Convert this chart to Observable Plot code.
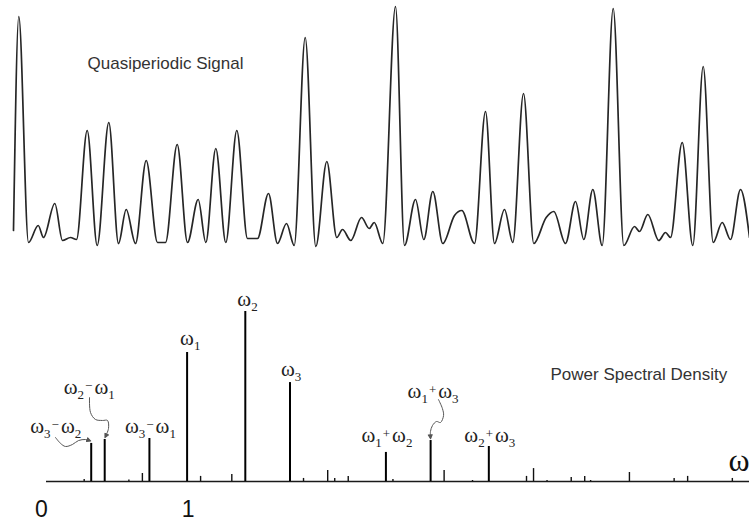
<!DOCTYPE html>
<html>
<head>
<meta charset="utf-8">
<script src="https://cdn.jsdelivr.net/npm/d3@7"></script>
<script src="https://cdn.jsdelivr.net/npm/@observablehq/plot@0.6"></script>
<style>
  html, body { margin: 0; padding: 0; background: #fff; }
  #chart { width: 749px; height: 520px; overflow: hidden; background: #fff; }
  #chart svg { display: block; }
</style>
</head>
<body>
<div id="chart"></div>
<script>
// ---------- Data: quasiperiodic signal (time, amplitude, arbitrary units) ----------
const signalTime = [13, 18.3, 28, 37.7, 43, 54.3, 62, 70, 76, 86.7,
  96.7, 108.3, 118, 125.7, 135, 145.7, 157, 165, 176.7, 187,
  197.7, 205.3, 215.3, 225.3, 236.3, 247, 257, 268, 277, 286,
  293.7, 304.7, 315.3, 326.3, 336.3, 342, 350.3, 361, 368.7, 373.7,
  382.3, 395, 404, 415, 423.3, 432.3, 442.3, 454, 461.3, 474,
  485, 494, 504, 512.3, 523, 533.3, 545.7, 553.3, 565, 575,
  583.3, 592.3, 601.7, 612.7, 623.3, 634, 639, 647.3, 658.3, 665,
  670, 681.7, 692.3, 702.7, 712.7, 721.7, 730, 740, 749];
const signalValue = [16, 230, 4, 21, 9, 43, 6, 9, 7, 116,
  1, 124, 3, 37, 3, 86, 4, 4, 102, 4,
  47, 4, 98, 4, 116, 8, 8, 53, 3, 23,
  1, 209, 0, 85, 9, 17, 6, 29, 18, 24,
  3, 240, 1, 47, 7, 55, 3, 31, 36, 3,
  135, 3, 37, 4, 153, 3, 29, 35, 3, 45,
  7, 57, 1, 238, 1, 20, 15, 32, 6, 14,
  9, 104, 1, 180, 4, 24, 7, 57, 9];

// ---------- Data: power spectral density ----------
const spikeFreq = [0.268, 0.318, 0.414, 0.586, 0.682, 0.732, 1, 1.096, 1.318, 1.414,
  1.732, 1.828, 2, 2.05, 2.146, 2.414, 2.464, 2.732, 2.828, 3.03,
  3.146, 3.414, 3.464, 3.56, 3.732, 3.828, 3.87, 4.146, 4.464, 4.56, 4.878];
const spikePower = [0.012, 0.224, 0.247, 0.009, 0.047, 0.253, 0.759, 0.03, 0.041, 1,
  0.582, 0.018, 0.065, 0.018, 0.03, 0.171, 0.012, 0.241, 0.065, 0.006,
  0.206, 0.03, 0.076, 0.006, 0.024, 0.03, 0.006, 0.053, 0.018, 0.03, 0.018];
const spikeLabel = ["", "ω3-ω2", "ω2-ω1", "", "", "ω3-ω1", "ω1", "", "", "ω2",
  "ω3", "", "", "", "", "ω1+ω2", "", "ω1+ω3", "", "",
  "ω2+ω3", "", "", "", "", "", "", "", "", "", ""];

// annotation arrows (frequency, power)
const arrowId = ["a","a","a","a","a","a","a", "b","b","b","b","b","b","b", "c","c","c","c","c","c","c","c"];
const arrowF = [0.064, 0.100, 0.135, 0.185, 0.228, 0.277, 0.306,
  0.306, 0.313, 0.348, 0.398, 0.434, 0.441, 0.420,
  2.788, 2.816, 2.824, 2.802, 2.774, 2.745, 2.731, 2.731];
const arrowP = [0.259, 0.224, 0.206, 0.218, 0.241, 0.247, 0.241,
  0.494, 0.406, 0.365, 0.359, 0.359, 0.312, 0.265,
  0.482, 0.429, 0.388, 0.347, 0.353, 0.329, 0.294, 0.259];

const tickValues = [0, 1];
const signalTitle = "Quasiperiodic Signal";
const spectrumTitle = "Power Spectral Density";
const axisSymbol = "ω";

// ---------- Tables ----------
const signal = signalTime.map((t, i) => ({t, v: signalValue[i]}));
const spikes = spikeFreq.map((f, i) => ({f, p: spikePower[i], label: spikeLabel[i]}));
const arrows = arrowF.map((f, i) => ({id: arrowId[i], f, p: arrowP[i]}));

const SANS = "'Liberation Sans', Arial, Helvetica, sans-serif";
const SERIF = "'Liberation Serif', 'Times New Roman', Times, serif";

// ---------- Top: signal ----------
const topPlot = Plot.plot({
  width: 749, height: 250,
  marginLeft: 0, marginRight: 0, marginTop: 6, marginBottom: 4,
  x: {domain: [0, 749], axis: null},
  y: {domain: [0, 240], axis: null},
  marks: [
    Plot.line(signal, {x: "t", y: "v", curve: "monotone-x", stroke: "#262626", strokeWidth: 1.7}),
    Plot.text([signalTitle], {text: d => d, frameAnchor: "top-left", textAnchor: "start", lineAnchor: "bottom",
      dx: 87, dy: 62, fontSize: 17, fontFamily: SANS, fill: "#333"})
  ]
});

// ---------- Bottom: spectrum ----------
const labelStyles = [
  {name: "ω1", textAnchor: "start", dx: -7, dy: -7},
  {name: "ω2", textAnchor: "start", dx: -8, dy: -6},
  {name: "ω3", textAnchor: "start", dx: -9, dy: -7},
  {name: "ω3-ω2", textAnchor: "end", dx: -10, dy: -10},
  {name: "ω2-ω1", textAnchor: "start", dx: -41, dy: -46},
  {name: "ω3-ω1", textAnchor: "middle", dx: 1, dy: -5},
  {name: "ω1+ω2", textAnchor: "middle", dx: 1, dy: -10},
  {name: "ω1+ω3", textAnchor: "start", dx: -23, dy: -43},
  {name: "ω2+ω3", textAnchor: "middle", dx: 1, dy: -4}
];

const bottomPlot = Plot.plot({
  width: 749, height: 270,
  marginLeft: 46, marginRight: 0, marginTop: 61, marginBottom: 39,
  x: {domain: [0, 5], axis: null},
  y: {domain: [0, 1], axis: null},
  marks: [
    Plot.ruleY([0], {stroke: "#1a1a1a", strokeWidth: 1.4}),
    Plot.ruleX(spikes.filter(d => !d.label), {x: "f", y1: 0, y2: "p", stroke: "#111", strokeWidth: 1.4}),
    Plot.ruleX(spikes.filter(d => d.label), {x: "f", y1: 0, y2: "p", stroke: "#000", strokeWidth: 2}),
    Plot.line(arrows, {x: "f", y: "p", z: "id", curve: "catmull-rom", stroke: "#555", strokeWidth: 1, markerEnd: "arrow"}),
    ...labelStyles.map(s => Plot.text(spikes.filter(d => d.label === s.name), {
      x: "f", y: "p", text: "label", textAnchor: s.textAnchor, lineAnchor: "bottom",
      dx: s.dx, dy: s.dy, fontSize: 21, fontFamily: SERIF, fill: "#222"
    })),
    Plot.text([spectrumTitle], {text: d => d, frameAnchor: "top-left", textAnchor: "start", lineAnchor: "bottom",
      dx: 504, dy: 68, fontSize: 17, fontFamily: SANS, fill: "#333"}),
    Plot.text([axisSymbol], {text: d => d, frameAnchor: "bottom-right", textAnchor: "end", lineAnchor: "bottom",
      dy: -11, fontSize: 32, fontFamily: SERIF, fill: "#111"}),
    Plot.text(tickValues.filter(d => d === 0), {x: d => d, text: d => String(d), frameAnchor: "bottom",
      lineAnchor: "bottom", dy: 35, dx: -5, fontSize: 23, fontFamily: SANS, fill: "#111"}),
    Plot.text(tickValues.filter(d => d !== 0), {x: d => d, text: d => String(d), frameAnchor: "bottom",
      lineAnchor: "bottom", dy: 35, dx: 1, fontSize: 23, fontFamily: SANS, fill: "#111"})
  ]
});

// rich text: subscripts for digits, raised small signs
const NS = "http://www.w3.org/2000/svg";
function richify(el) {
  const s = el.textContent;
  if (!/ω\d/.test(s)) return;
  el.textContent = "";
  let shift = 0;
  let prevSign = false;
  for (const ch of s) {
    const ts = document.createElementNS(NS, "tspan");
    let target = 0, size = null, dx = 0;
    if (/\d/.test(ch)) { target = 5; size = 13; }
    else if (ch === "+" || ch === "-") { target = -4; size = 13; dx = 1; }
    else if (prevSign) { dx = 2; }
    ts.setAttribute("dy", String(target - shift));
    if (dx) ts.setAttribute("dx", String(dx));
    shift = target;
    if (size) ts.setAttribute("font-size", String(size));
    ts.textContent = ch === "-" ? "\u2212" : ch;
    el.appendChild(ts);
    prevSign = (ch === "+" || ch === "-");
  }
}
bottomPlot.querySelectorAll("text").forEach(richify);

// filled arrowheads
bottomPlot.querySelectorAll("marker").forEach(m => {
  const c = m.getAttribute("stroke") || "#555";
  m.setAttribute("fill", c);
  const p = m.querySelector("path");
  if (p) p.setAttribute("d", "M-4,-3L2,0L-4,3Z");
});

const chart = document.getElementById("chart");
chart.appendChild(topPlot);
chart.appendChild(bottomPlot);
</script>
</body>
</html>
